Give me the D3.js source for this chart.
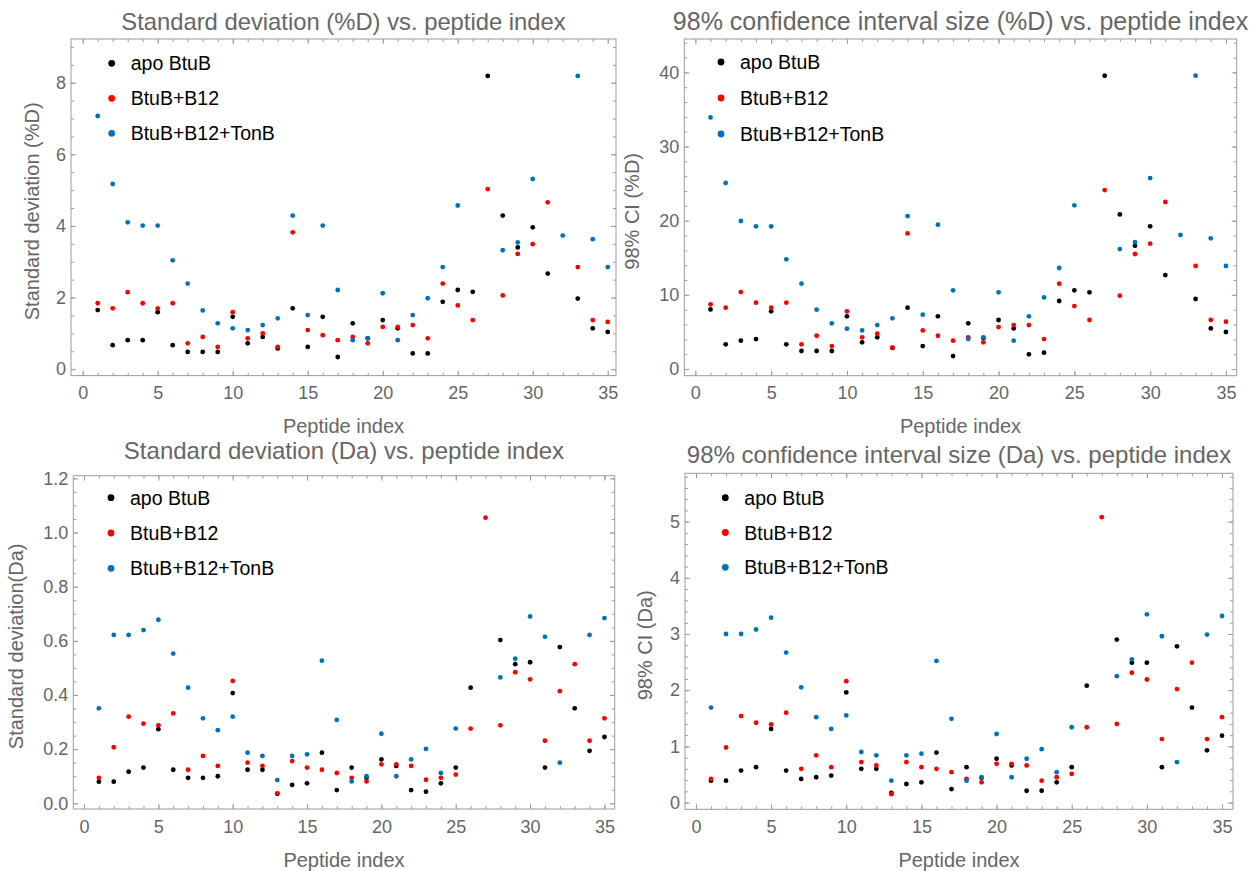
<!DOCTYPE html>
<html>
<head>
<meta charset="utf-8">
<script src="https://cdn.jsdelivr.net/npm/d3@7"></script>
<style>
  body { margin: 0; background: #fff; }
  svg { font-family: "Liberation Sans", Arial, sans-serif; }
</style>
</head>
<body>
<svg id="chart" width="1255" height="871"></svg>
<script>
// peptide index (x) shared by all four panels
const peptideIndex = [1,2,3,4,5,6,7,8,9,10,11,12,13,14,15,16,17,18,19,20,21,22,23,24,25,26,27,28,29,30,31,32,33,34,35];

const seriesNames = ["apo BtuB", "BtuB+B12", "BtuB+B12+TonB"];
const seriesColors = ["#000000", "#ff0000", "#0072bd"];

// standard deviation (%D)
const sdPctApo  = [1.65,0.67,0.81,0.81,1.59,0.67,0.48,0.48,0.48,1.46,0.72,0.90,0.58,1.70,0.62,1.46,0.34,1.28,0.86,1.37,1.14,0.44,0.44,1.88,2.21,2.16,8.19,4.29,3.40,3.96,2.67,null,1.97,1.14,1.04];
const sdPctB12  = [1.84,1.70,2.15,1.84,1.70,1.84,0.72,0.90,0.62,1.59,0.86,1.00,0.62,3.82,1.09,0.95,0.81,0.90,0.72,1.18,1.18,1.23,0.86,2.39,1.78,1.37,5.03,2.06,3.22,3.49,4.66,null,2.85,1.37,1.32];
const sdPctTonB = [7.07,5.17,4.10,4.01,4.01,3.04,2.39,1.64,1.28,1.14,1.09,1.23,1.42,4.29,1.51,4.01,2.21,0.81,0.86,2.12,0.81,1.51,1.98,2.85,4.57,null,null,3.32,3.54,5.31,null,3.73,8.19,3.63,2.85];

// 98% CI (%D)
const ciPctApo  = [8.04,3.33,3.82,4.04,7.78,3.33,2.43,2.43,2.43,7.10,3.60,4.27,2.85,8.27,3.10,7.10,1.75,6.16,4.20,6.61,5.48,1.98,2.20,9.17,10.61,10.34,39.55,20.85,16.63,19.24,12.67,null,9.44,5.48,4.99];
const ciPctB12  = [8.72,8.27,10.38,8.94,8.27,8.94,3.33,4.49,3.10,7.78,4.27,4.76,2.88,18.29,5.21,4.49,3.82,4.27,3.60,5.66,5.93,5.93,4.04,11.51,8.49,6.61,24.13,9.89,15.51,16.90,22.52,null,13.89,6.61,6.38];
const ciPctTonB = [33.93,25.08,19.96,19.24,19.24,14.79,11.51,8.00,6.16,5.44,5.21,5.93,6.83,20.63,7.33,19.46,10.61,4.04,4.27,10.34,3.82,7.10,9.66,13.62,22.07,null,null,16.18,17.12,25.75,null,18.07,39.55,17.62,13.89];

// standard deviation (Da)
const sdDaApo  = [0.080,0.080,0.117,0.132,0.274,0.124,0.094,0.094,0.100,0.407,0.124,0.124,0.035,0.068,0.074,0.187,0.049,0.132,0.094,0.162,0.138,0.049,0.043,0.074,0.132,0.427,null,0.603,0.514,0.521,0.132,0.577,0.351,0.194,0.245];
const sdDaB12  = [0.094,0.207,0.320,0.294,0.288,0.332,0.124,0.175,0.138,0.452,0.150,0.138,0.037,0.156,0.132,0.124,0.112,0.094,0.081,0.144,0.144,0.138,0.087,0.094,0.106,0.276,1.055,0.288,0.484,0.458,0.231,0.414,0.514,0.231,0.314];
const sdDaTonB = [0.351,0.622,0.622,0.640,0.678,0.553,0.427,0.314,0.270,0.320,0.187,0.175,0.086,0.175,0.181,0.527,0.308,0.081,0.100,0.257,0.100,0.162,0.201,0.112,0.276,null,null,0.465,0.534,0.690,0.615,0.150,null,0.622,0.684];

// 98% CI (Da)
const ciDaApo  = [0.39,0.39,0.57,0.63,1.31,0.57,0.42,0.45,0.48,1.96,0.60,0.60,0.17,0.33,0.36,0.89,0.24,0.63,0.44,0.78,0.66,0.21,0.21,0.36,0.63,2.08,null,2.90,2.49,2.49,0.63,2.78,1.69,0.93,1.19];
const ciDaB12  = [0.42,0.98,1.54,1.42,1.39,1.60,0.60,0.84,0.63,2.16,0.72,0.66,0.15,0.72,0.63,0.60,0.54,0.42,0.36,0.69,0.69,0.66,0.39,0.45,0.51,1.34,5.08,1.40,2.31,2.19,1.13,2.02,2.49,1.13,1.52];
const ciDaTonB = [1.69,3.00,3.00,3.08,3.29,2.67,2.05,1.52,1.31,1.55,0.90,0.84,0.39,0.84,0.87,2.52,1.49,0.39,0.45,1.22,0.45,0.78,0.95,0.54,1.34,null,null,2.25,2.55,3.35,2.96,0.72,null,2.99,3.32];

const xTickLabels = [0, 5, 10, 15, 20, 25, 30, 35];

const panels = [
  {
    title: "Standard deviation (%D) vs. peptide index", titleSize: 23.8, titleY: 30,
    yLabel: "Standard deviation (%D)", yLabelX: 34,
    frame: { left: 71, right: 616, top: 39, bottom: 375.6 },
    xDomain: [-0.78, 35.55], yDomain: [-0.18, 9.22],
    yTicks: [0, 2, 4, 6, 8], yMinorStep: 0.5, yFormat: d3.format("d"),
    xLabelY: 433, legend: { x: 111.7, y: 63.3, gap: 35 },
    series: [sdPctApo, sdPctB12, sdPctTonB]
  },
  {
    title: "98% confidence interval size (%D) vs. peptide index", titleSize: 25, titleY: 29.5,
    yLabel: "98% CI (%D)", yLabelX: 634,
    frame: { left: 684.3, right: 1236.7, top: 39, bottom: 375.7 },
    xDomain: [-0.73, 35.71], yDomain: [-0.9, 44.5],
    yTicks: [0, 10, 20, 30, 40], yMinorStep: 2, yFormat: d3.format("d"),
    xLabelY: 433, legend: { x: 721, y: 62, gap: 36 },
    series: [ciPctApo, ciPctB12, ciPctTonB]
  },
  {
    title: "Standard deviation (Da) vs. peptide index", titleSize: 24, titleY: 458.5,
    yLabel: "Standard deviation(Da)", yLabelX: 18,
    frame: { left: 73.3, right: 614.7, top: 475.7, bottom: 809 },
    xDomain: [-0.72, 35.69], yDomain: [-0.021, 1.21],
    yTicks: [0, 0.2, 0.4, 0.6, 0.8, 1.0, 1.2], yMinorStep: 0.05, yFormat: d3.format(".1f"),
    xLabelY: 867, legend: { x: 111, y: 497.7, gap: 35.3 },
    series: [sdDaApo, sdDaB12, sdDaTonB]
  },
  {
    title: "98% confidence interval size (Da) vs. peptide index", titleSize: 24, titleY: 463,
    yLabel: "98% CI (Da)", yLabelX: 647,
    frame: { left: 685, right: 1233, top: 473.3, bottom: 809.3 },
    xDomain: [-0.73, 35.73], yDomain: [-0.12, 5.86],
    yTicks: [0, 1, 2, 3, 4, 5], yMinorStep: 0.2, yFormat: d3.format("d"),
    xLabelY: 867, legend: { x: 725.3, y: 497.7, gap: 34.8 },
    series: [ciDaApo, ciDaB12, ciDaTonB]
  }
];

const svg = d3.select("#chart");
const frameColor = "#9c9c9c";
const labelColor = "#666666";

const minorValues = (domain, step) => {
  const out = [];
  const start = Math.ceil(domain[0] / step);
  const end = Math.floor(domain[1] / step);
  for (let i = start; i <= end; i++) out.push(+(i * step).toFixed(4));
  return out;
};

const renderPanel = (p) => {
  const f = p.frame;
  const g = svg.append("g");

  const x = d3.scaleLinear().domain(p.xDomain).range([f.left, f.right]);
  const y = d3.scaleLinear().domain(p.yDomain).range([f.bottom, f.top]);

  const styleAxis = (sel) => {
    sel.select(".domain").remove();
    sel.selectAll("line").attr("stroke", frameColor);
    sel.selectAll("text").attr("fill", labelColor).style("font-size", "18px");
  };

  const xMinor = minorValues(p.xDomain, 1);
  const yMinor = minorValues(p.yDomain, p.yMinorStep);

  // minor ticks, all four sides
  g.append("g").attr("transform", `translate(0,${f.bottom})`)
    .call(d3.axisBottom(x).tickValues(xMinor).tickSize(-3).tickFormat("")).call(styleAxis);
  g.append("g").attr("transform", `translate(0,${f.top})`)
    .call(d3.axisTop(x).tickValues(xMinor).tickSize(-3).tickFormat("")).call(styleAxis);
  g.append("g").attr("transform", `translate(${f.left},0)`)
    .call(d3.axisLeft(y).tickValues(yMinor).tickSize(-3).tickFormat("")).call(styleAxis);
  g.append("g").attr("transform", `translate(${f.right},0)`)
    .call(d3.axisRight(y).tickValues(yMinor).tickSize(-3).tickFormat("")).call(styleAxis);

  // major ticks
  g.append("g").attr("transform", `translate(0,${f.bottom})`)
    .call(d3.axisBottom(x).tickValues(xTickLabels).tickSize(-5).tickPadding(11).tickFormat(d3.format("d")))
    .call(styleAxis);
  g.append("g").attr("transform", `translate(0,${f.top})`)
    .call(d3.axisTop(x).tickValues(xTickLabels).tickSize(-5).tickFormat("")).call(styleAxis);
  g.append("g").attr("transform", `translate(${f.left},0)`)
    .call(d3.axisLeft(y).tickValues(p.yTicks).tickSize(-5).tickPadding(5).tickFormat(p.yFormat))
    .call(styleAxis);
  g.append("g").attr("transform", `translate(${f.right},0)`)
    .call(d3.axisRight(y).tickValues(p.yTicks).tickSize(-5).tickFormat("")).call(styleAxis);

  // frame
  g.append("rect")
    .attr("x", f.left).attr("y", f.top)
    .attr("width", f.right - f.left).attr("height", f.bottom - f.top)
    .attr("fill", "none").attr("stroke", frameColor).attr("stroke-width", 1);

  // points
  p.series.forEach((vals, si) => {
    const pts = peptideIndex.map((idx, i) => ({ idx, v: vals[i] })).filter(d => d.v != null);
    g.append("g").selectAll("circle")
      .data(pts)
      .enter()
      .append("circle")
      .attr("cx", d => x(d.idx))
      .attr("cy", d => y(d.v))
      .attr("r", 2.4)
      .attr("fill", seriesColors[si]);
  });

  // legend
  const lg = g.append("g");
  seriesNames.forEach((name, i) => {
    const ly = p.legend.y + i * p.legend.gap;
    lg.append("circle").attr("cx", p.legend.x).attr("cy", ly).attr("r", 3.4).attr("fill", seriesColors[i]);
    lg.append("text").attr("x", p.legend.x + 19).attr("y", ly).attr("dy", "0.36em")
      .style("font-size", "19.5px").attr("fill", "#000").text(name);
  });

  // titles and labels
  const cx = (f.left + f.right) / 2;
  g.append("text").attr("x", cx).attr("y", p.titleY).attr("text-anchor", "middle")
    .style("font-size", `${p.titleSize}px`).attr("fill", labelColor).text(p.title);

  g.append("text").attr("x", cx).attr("y", p.xLabelY).attr("text-anchor", "middle")
    .style("font-size", "20px").attr("fill", labelColor).text("Peptide index");

  const cy = (f.top + f.bottom) / 2 + 4;
  g.append("text")
    .attr("transform", `translate(${p.yLabelX},${cy}) rotate(-90)`)
    .attr("text-anchor", "middle").attr("dy", "0.27em")
    .style("font-size", "20px").attr("fill", labelColor).text(p.yLabel);
};

panels.forEach(renderPanel);
</script>
</body>
</html>
